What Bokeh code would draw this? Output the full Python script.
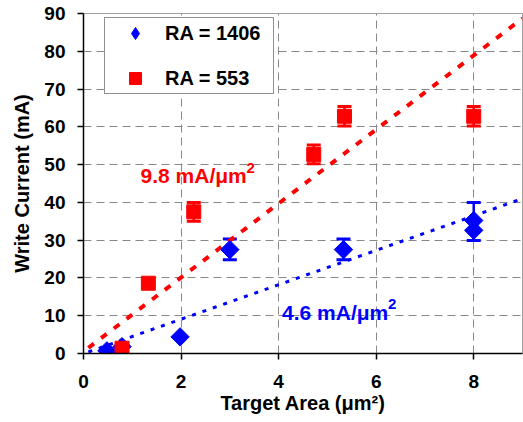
import math
from bokeh.plotting import figure
from bokeh.models import (ColumnDataSource, Whisker, TeeHead, Legend, LegendItem,
                          FixedTicker, Range1d)
from bokeh.core.properties import value
from bokeh.embed import file_html
from bokeh.resources import INLINE

# ---- data ----
ra1406_x = [0.48, 0.79, 1.98, 3.0, 5.33, 8.0, 8.0]
ra1406_y = [0.7, 1.8, 4.4, 27.5, 27.5, 32.6, 35.2]
ra1406_err_x = [3.0, 5.33, 8.0]
ra1406_err_lo = [24.8, 24.8, 29.9]
ra1406_err_hi = [30.3, 30.3, 40.0]

ra553_x = [0.79, 1.33, 2.26, 4.72, 5.35, 8.0]
ra553_y = [1.4, 18.6, 37.5, 52.7, 62.8, 62.8]
ra553_err_x = [2.26, 4.72, 5.35, 8.0]
ra553_err_lo = [35.0, 50.2, 60.2, 60.2]
ra553_err_hi = [40.0, 55.2, 65.4, 65.4]

fit_x = [0.1, 9.0]
fit553_y = [1.5, 88.7]
fit1406_y = [0.4, 41.0]

x_ticks = [0, 2, 4, 6, 8]
y_ticks = [0, 10, 20, 30, 40, 50, 60, 70, 80, 90]

labels = ["RA = 1406", "RA = 553"]
slope_labels = ["9.8 mA/\u03bcm", "4.6 mA/\u03bcm"]
slope_label_x = [1.17, 4.07]
slope_label_y = [47.1, 10.9]
x_title = "Target Area (\u03bcm\u00b2)"
y_title = "Write Current (mA)"

BLUE = "#0000ff"
RED = "#ff0000"
FONT = "Liberation Sans"

p = figure(width=523, height=422, output_backend="svg", toolbar_location=None,
           x_range=Range1d(0, 9), y_range=Range1d(0, 90),
           min_border_left=83, min_border_right=1, min_border_top=13, min_border_bottom=69)
p.background_fill_color = "white"
p.border_fill_color = "white"
p.outline_line_color = "#a0a0a0"
p.outline_line_width = 1

for ax in (p.xaxis[0], p.yaxis[0]):
    ax.axis_line_color = "black"
    ax.axis_line_width = 1.5
    ax.major_tick_line_color = "black"
    ax.major_tick_line_width = 1.5
    ax.major_tick_out = 6
    ax.major_tick_in = 0
    ax.minor_tick_line_color = None
    ax.major_label_text_font = FONT
    ax.major_label_text_font_style = "bold"
    ax.major_label_text_font_size = "19px"
    ax.major_label_text_color = "black"
    ax.axis_label_text_font = FONT
    ax.axis_label_text_font_style = "bold"
    ax.axis_label_text_font_size = "20px"
    ax.axis_label_text_color = "black"

p.xaxis.ticker = FixedTicker(ticks=x_ticks)
p.yaxis.ticker = FixedTicker(ticks=y_ticks)
p.xaxis.axis_label = x_title
p.yaxis.axis_label = y_title
p.xaxis.major_label_standoff = 15
p.xaxis.axis_label_standoff = 1
p.yaxis.major_label_standoff = 12
p.yaxis.axis_label_standoff = 8

for g in (p.xgrid[0], p.ygrid[0]):
    g.grid_line_color = "#888888"
    g.grid_line_dash = "8 5"
    g.grid_line_width = 1

# fit lines
p.line(fit_x, fit553_y, line_color=RED, line_width=4, line_dash="7 9")
p.line(fit_x, fit1406_y, line_color=BLUE, line_width=3, line_dash="4 7")

# error bars
s1406e = ColumnDataSource(dict(x=ra1406_err_x, lo=ra1406_err_lo, hi=ra1406_err_hi))
p.add_layout(Whisker(source=s1406e, base="x", lower="lo", upper="hi", dimension="height",
                     line_color=BLUE, line_width=2.5,
                     upper_head=TeeHead(size=14, line_color=BLUE, line_width=3),
                     lower_head=TeeHead(size=14, line_color=BLUE, line_width=3)))
s553e = ColumnDataSource(dict(x=ra553_err_x, lo=ra553_err_lo, hi=ra553_err_hi))
p.add_layout(Whisker(source=s553e, base="x", lower="lo", upper="hi", dimension="height",
                     line_color=RED, line_width=2.5,
                     upper_head=TeeHead(size=14, line_color=RED, line_width=3),
                     lower_head=TeeHead(size=14, line_color=RED, line_width=3)))

# markers
r1 = p.scatter(ra1406_x, ra1406_y, marker="square", angle=math.pi / 4, size=13,
               fill_color=BLUE, line_color=BLUE)
r2 = p.scatter(ra553_x, ra553_y, marker="square", size=14,
               fill_color=RED, line_color=RED)
# legend-only glyph (same data, hidden) so that the legend shows a diamond
r1_leg = p.scatter(ra1406_x, ra1406_y, marker="diamond", size=18,
                   fill_color=BLUE, line_color=BLUE, visible=False)

# slope annotations (with superscript 2)
for i, col in enumerate([RED, BLUE]):
    p.text(x=[slope_label_x[i]], y=[slope_label_y[i]], text=[slope_labels[i]],
           text_font=value(FONT), text_font_style="bold", text_font_size="21px",
           text_color=col, text_baseline="alphabetic", text_align="left")
    p.text(x=[slope_label_x[i]], y=[slope_label_y[i]], text=["2"],
           text_font=value(FONT), text_font_style="bold", text_font_size="15px",
           text_color=col, text_baseline="alphabetic", text_align="left",
           x_offset=106, y_offset=-8)

legend = Legend(items=[LegendItem(label=labels[0], renderers=[r1_leg]),
                       LegendItem(label=labels[1], renderers=[r2])],
                location=(21, 259))
legend.label_text_font = FONT
legend.label_text_font_style = "bold"
legend.label_text_font_size = "20px"
legend.label_text_color = "black"
legend.glyph_width = 60
legend.glyph_height = 30
legend.label_height = 30
legend.label_width = 108
legend.label_standoff = 0
legend.padding = 0
legend.spacing = 15
legend.margin = 0
legend.border_line_color = "#222222"
legend.border_line_width = 1.5
legend.background_fill_color = "white"
legend.background_fill_alpha = 1
legend.inactive_fill_alpha = 0
p.add_layout(legend)

open("out.html", "w").write(file_html(p, INLINE))
